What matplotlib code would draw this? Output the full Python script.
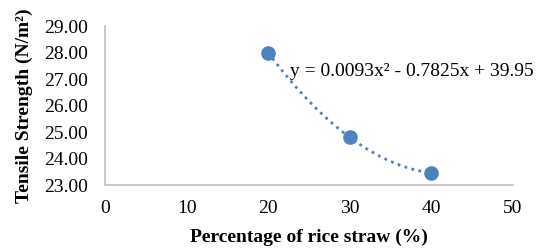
import numpy as np
import matplotlib
matplotlib.use("Agg")
import matplotlib.pyplot as plt

plt.rcParams['font.family'] = ['Liberation Serif', 'DejaVu Serif']

straw = [20, 30, 40]
strength = [28.00, 24.80, 23.45]
x_ticks = [0, 10, 20, 30, 40, 50]
y_ticks = [23, 24, 25, 26, 27, 28, 29]
blue = '#4F81BD'

fig = plt.figure(figsize=(5.41, 2.48), dpi=100)
ax = fig.add_axes([0.194, 0.254, 0.754, 0.641])

# quadratic trendline
coef = np.polyfit(straw, strength, 2)
xs = np.linspace(straw[0], straw[-1], 100)
ax.plot(xs, np.polyval(coef, xs), color=blue, linestyle=(0, (1, 1.6)), linewidth=2)
ax.plot(straw, strength, 'o', color=blue, markersize=9.5, zorder=5)

ax.text(22.7, 27.27, "y = 0.0093x² - 0.7825x + 39.95", fontsize=14, va='center')

ax.set_xlim(0, 50)
ax.set_ylim(23, 29)
ax.set_xticks(x_ticks)
ax.set_yticks(y_ticks)
ax.set_yticklabels(["%.2f" % v for v in y_ticks])
ax.tick_params(axis='y', length=0, labelsize=14, pad=12)
ax.tick_params(axis='x', length=0, labelsize=14, pad=11)
for s in ['top', 'right']:
    ax.spines[s].set_visible(False)
for s in ['left', 'bottom']:
    ax.spines[s].set_color('#BFBFBF')
    ax.spines[s].set_linewidth(1.2)

ax.set_xlabel("Percentage of rice straw (%)", fontsize=14, fontweight='bold', labelpad=8)
ax.set_ylabel("Tensile Strength (N/m²)", fontsize=14, fontweight='bold', labelpad=8)

fig.savefig("out.png", dpi=100)
